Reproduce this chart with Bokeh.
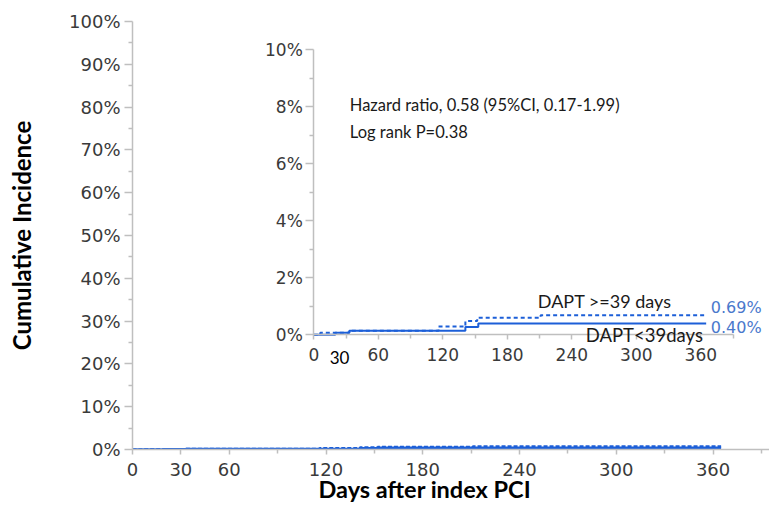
import math
from bokeh.plotting import figure
from bokeh.models import Range1d, LinearAxis, FixedTicker, Label, PrintfTickFormatter, Title
from bokeh.embed import file_html
from bokeh.resources import INLINE

# ---------------- data ----------------
days_short = [0, 20, 33, 141, 153, 365]          # DAPT<39days
cum_short = [0.0, 0.07, 0.14, 0.27, 0.40, 0.40]  # cumulative incidence, %
days_long = [0, 6, 33, 116, 141, 152, 211, 365]  # DAPT>=39 days
cum_long = [0.0, 0.07, 0.14, 0.29, 0.48, 0.60, 0.69, 0.69]

x_ticks = [0, 60, 120, 180, 240, 300, 360]
x_minor = [30, 90, 150, 210, 270, 330, 390]
main_x_ticks = [0, 30, 60, 120, 180, 240, 300, 360]
main_x_minor = [90, 150, 210, 270, 330, 390]
main_y_ticks = [0, 10, 20, 30, 40, 50, 60, 70, 80, 90, 100]
main_y_minor = [5, 15, 25, 35, 45, 55, 65, 75, 85, 95]
inset_y_ticks = [0, 2, 4, 6, 8, 10]
inset_y_minor = [1, 3, 5, 7, 9]

label_short = "DAPT<39days"
label_long = "DAPT >=39 days"
hr_text = "Hazard ratio, 0.58 (95%CI, 0.17-1.99)"
p_text = "Log rank P=0.38"
x_title = "Days after index PCI"
y_title = "Cumulative Incidence"

# ---------------- layout ----------------
W, H = 769, 520
FL, FT, FB = 132, 21, 71
FR = 0
fw = W - FL - FR
fh = H - FT - FB

X_END = 395
# inset placement (pixels in canvas)
IX0, IPPD = 313.3, 1.075    # x pixel of day 0, pixels per day
IY0, IPPP = 334.3, 28.5     # y pixel of 0%, pixels per percent

LINE = "#1c5fd8"
LBL = "#4a78cc"
AX = "#bfbfbf"
TICKC = "#3a3a3a"
TXT_FONT = "Lato"

p = figure(width=W, height=H, output_backend="svg", toolbar_location=None,
           x_range=Range1d(0, X_END), y_range=Range1d(0, 100),
           min_border_left=FL, min_border_right=FR, min_border_top=FT,
           min_border_bottom=FB)
p.outline_line_color = None
p.grid.visible = False
p.background_fill_color = "white"

p.extra_x_ranges = {"ix": Range1d((FL - IX0) / IPPD, (FL + fw - IX0) / IPPD)}
p.extra_y_ranges = {"iy": Range1d(-(FT + fh - IY0) / IPPP, (IY0 - FT) / IPPP)}


def style_axis(ax, font_size, tick_out, minor_out, standoff):
    ax.axis_line_color = AX
    ax.axis_line_width = 1.5
    ax.major_tick_line_color = AX
    ax.major_tick_line_width = 1.5
    ax.minor_tick_line_color = AX
    ax.minor_tick_line_width = 1.5
    ax.major_tick_in = 0
    ax.major_tick_out = tick_out
    ax.minor_tick_in = 0
    ax.minor_tick_out = minor_out
    ax.major_label_text_font = "DejaVu Sans"
    ax.major_label_text_font_size = font_size
    ax.major_label_text_color = TICKC
    ax.major_label_standoff = standoff


# main axes
p.xaxis.ticker = FixedTicker(ticks=main_x_ticks, minor_ticks=main_x_minor)
p.yaxis.ticker = FixedTicker(ticks=main_y_ticks, minor_ticks=main_y_minor)
p.yaxis.formatter = PrintfTickFormatter(format="%d%%")
style_axis(p.xaxis[0], "18px", 5, 4, 8)
style_axis(p.yaxis[0], "18px", 8, 4, 4)
p.yaxis.axis_label = y_title
p.yaxis.axis_label_text_font = TXT_FONT
p.yaxis.axis_label_text_font_size = "24px"
p.yaxis.axis_label_text_font_style = "bold"
p.yaxis.axis_label_text_color = "black"
p.yaxis.axis_label_standoff = 30

# x title as a Title below the axis
p.add_layout(Title(text=x_title, align="left", offset=186, standoff=-8,
                   vertical_align="top", text_font=TXT_FONT,
                   text_font_size="23.5px", text_font_style="bold",
                   text_color="black"), "below")

# inset axes
iy_axis = LinearAxis(x_range_name="ix", y_range_name="iy", fixed_location=0,
                     bounds=(0, 10),
                     ticker=FixedTicker(ticks=inset_y_ticks, minor_ticks=inset_y_minor),
                     formatter=PrintfTickFormatter(format="%d%%"))
style_axis(iy_axis, "17px", 8, 4, 3)
p.add_layout(iy_axis, "left")

ix_axis = LinearAxis(x_range_name="ix", y_range_name="iy", fixed_location=0,
                     bounds=(0, 390),
                     ticker=FixedTicker(ticks=x_ticks, minor_ticks=x_minor))
style_axis(ix_axis, "17px", 5, 4, 8)
p.add_layout(ix_axis, "below")

# main curves
p.step(days_long, cum_long, mode="after", line_color=LINE, line_width=2.5,
       line_dash="4 2")
p.step(days_short, cum_short, mode="after", line_color=LINE, line_width=2.5)

# inset curves
p.step(days_long, cum_long, mode="after", line_color=LINE, line_width=2,
       line_dash="4 3", x_range_name="ix", y_range_name="iy")
p.step(days_short, cum_short, mode="after", line_color=LINE, line_width=2,
       x_range_name="ix", y_range_name="iy")


def lab(text, x, y, size="16px", color="#1a1a1a", font=TXT_FONT, align="left"):
    p.add_layout(Label(x=x, y=y, text=text, text_font=font, text_font_size=size,
                       text_color=color, text_align=align, text_baseline="middle",
                       x_range_name="ix", y_range_name="iy"))


# annotations in inset
lab(hr_text, 33.5, 8.08, size="16.5px")
lab(p_text, 33.5, 7.13, size="16.5px")
lab(label_long, 208.4, 1.2, size="18px")
lab(label_short, 253, -0.02, size="18.5px")
lab(f"{cum_long[-1]:.2f}%", 369.3, 0.97, size="16px", color=LBL, font="DejaVu Sans")
lab(f"{cum_short[-1]:.2f}%", 369.3, 0.27, size="16px", color=LBL, font="DejaVu Sans")
lab("30", 24, -0.81, size="17px", color="black", align="center")

open("out.html", "w").write(file_html(p, INLINE))
